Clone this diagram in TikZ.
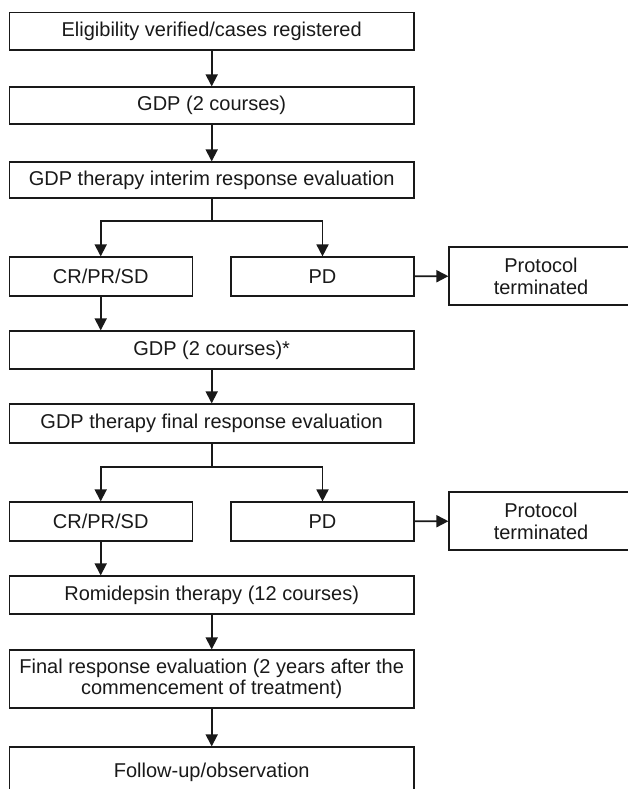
\documentclass[tikz,border=0pt]{standalone}
\usepackage{fontspec}
\setmainfont{Liberation Sans}
\usetikzlibrary{arrows.meta}
\begin{document}
\begin{tikzpicture}[x=1pt,y=1pt,
  box/.style={draw=black!90, line width=1.2pt, inner sep=0pt, align=center,
    font=\fontsize{20}{21}\selectfont, text=black!90},
  wide/.style={box, minimum width=404.7pt},
  half/.style={box, minimum width=183pt},
  term/.style={box, minimum width=184pt, minimum height=58pt, font=\fontsize{20}{22}\selectfont},
  arr/.style={draw=black!90, line width=1.8pt, -{Triangle[length=12pt,width=12pt]}},
  ln/.style={draw=black!90, line width=1.8pt}]
\useasboundingbox (0,0) rectangle (628,-789);
\clip (0,0) rectangle (628,-789);
\node[wide, minimum height=37.3pt] (b1) at (211.7,-31.35) {Eligibility verified/cases registered};
\node[wide, minimum height=37pt] (b2) at (211.7,-105.5) {GDP (2 courses)};
\node[wide, minimum height=36pt] (b3) at (211.7,-180) {GDP therapy interim response evaluation};
\node[half, minimum height=39pt] (cr1) at (100.7,-276.5) {CR/PR/SD};
\node[half, minimum height=39pt] (pd1) at (322.5,-276.5) {PD};
\node[term] (p1) at (541,-276) {Protocol\\terminated};
\node[wide, minimum height=38pt] (g2) at (211.7,-350) {GDP (2 courses)*};
\node[wide, minimum height=39pt] (gf) at (211.7,-423.5) {GDP therapy final response evaluation};
\node[half, minimum height=39pt] (cr2) at (100.7,-521.5) {CR/PR/SD};
\node[half, minimum height=39pt] (pd2) at (322.5,-521.5) {PD};
\node[term] (p2) at (541,-521) {Protocol\\terminated};
\node[wide, minimum height=38pt] (ro) at (211.7,-595) {Romidepsin therapy (12 courses)};
\node[wide, minimum height=58pt] (fr) at (211.7,-679) {Final response evaluation (2 years after the\\commencement of treatment)};
\node[wide, minimum height=50pt] (fu) at (211.7,-772) {Follow-up/observation};
\coordinate (j1) at (211.7,-221);
\coordinate (j2) at (211.7,-467);
\draw[arr] (b1) -- (b2);
\draw[arr] (b2) -- (b3);
\draw[ln] (b3.south) -- (j1);
\draw[arr] (j1) -| (cr1.north);
\draw[arr] (j1) -| (pd1.north);
\draw[arr] (pd1) -- (p1);
\draw[arr] (cr1.south) -- (cr1.south |- g2.north);
\draw[arr] (g2) -- (gf);
\draw[ln] (gf.south) -- (j2);
\draw[arr] (j2) -| (cr2.north);
\draw[arr] (j2) -| (pd2.north);
\draw[arr] (pd2) -- (p2);
\draw[arr] (cr2.south) -- (cr2.south |- ro.north);
\draw[arr] (ro) -- (fr);
\draw[arr] (fr) -- (fu);
\end{tikzpicture}
\end{document}
